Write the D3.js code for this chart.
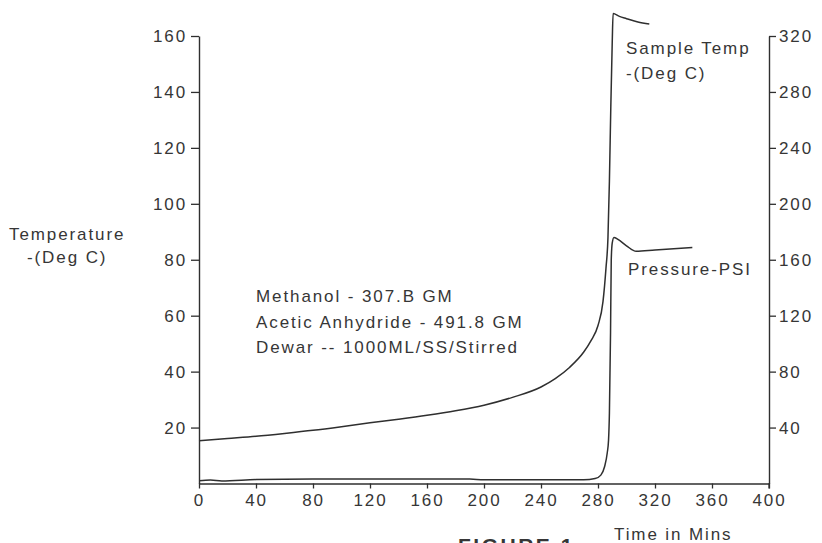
<!DOCTYPE html>
<html>
<head>
<meta charset="utf-8">
<script src="https://cdn.jsdelivr.net/npm/d3@7/dist/d3.min.js"></script>
<style>
  html, body { margin: 0; padding: 0; background: #ffffff; }
  svg text { font-family: "Liberation Sans", Arial, Helvetica, sans-serif; fill: #363636; }
</style>
</head>
<body>
<svg id="chart" width="822" height="543"></svg>
<script>
// ---- data ----
const timeTicks = [0, 40, 80, 120, 160, 200, 240, 280, 320, 360, 400];
const leftTicks = [20, 40, 60, 80, 100, 120, 140, 160];
const rightTicks = [40, 80, 120, 160, 200, 240, 280, 320];

// Sample temperature (Deg C, left axis)
const tempTime = [0, 20, 40, 60, 80, 100, 120, 140, 160, 180, 200, 220, 240, 250, 260, 270, 275, 280, 283.5, 285.6, 287, 288, 289, 290, 290.6, 295, 300, 308, 316];
const tempValue = [15.3, 16.1, 16.9, 17.9, 19.0, 20.3, 21.7, 23.0, 24.4, 26.0, 28.0, 30.8, 34.5, 37.5, 41.5, 47.0, 51.0, 56.5, 65.0, 77.0, 88.0, 108.0, 135.0, 158.0, 168.0, 167.0, 166.2, 165.0, 164.3];

// Pressure (PSI, right axis)
const presTime = [0, 8, 16, 40, 80, 120, 160, 190, 200, 240, 270, 278, 282, 284.6, 286.5, 287.4, 288, 288.8, 289.3, 290, 291.2, 294, 300, 306.8, 320, 346.2];
const presValue = [2.0, 2.5, 1.8, 2.8, 3.3, 3.3, 3.3, 3.2, 2.6, 2.6, 2.6, 3.5, 6, 12, 22, 31, 50, 108, 160, 172, 176, 174.5, 170, 166, 167, 168.7];

const annotation = ["Methanol - 307.B GM", "Acetic Anhydride - 491.8 GM", "Dewar -- 1000ML/SS/Stirred"];

// ---- layout ----
const svg = d3.select("#chart");
const x0 = 199, x1 = 769, y0 = 483.5, yTop = 36;
const x = d3.scaleLinear().domain([0, 400]).range([x0, x1]);
const yL = d3.scaleLinear().domain([0, 160]).range([y0, yTop]);
const yR = d3.scaleLinear().domain([0, 320]).range([y0, yTop]);

const ink = "#2f2f2f";
const fontSize = "17px";
const ls = "1.9px";

function styleAxis(g) {
  g.selectAll("path.domain").attr("stroke", ink).attr("stroke-width", 1.4);
  g.selectAll(".tick line").attr("stroke", ink).attr("stroke-width", 1.3);
  g.selectAll(".tick text")
    .style("font-family", '"Liberation Sans", Arial, Helvetica, sans-serif')
    .style("font-size", fontSize).style("letter-spacing", ls).attr("fill", "#363636");
}

// x axis
const gx = svg.append("g").attr("transform", `translate(0,${y0})`)
  .call(d3.axisBottom(x).tickValues(timeTicks).tickSize(5).tickSizeOuter(0).tickPadding(5).tickFormat(d3.format("d")));
styleAxis(gx);

// left axis
const gl = svg.append("g").attr("transform", `translate(${x0},0)`)
  .call(d3.axisLeft(yL).tickValues(leftTicks).tickSize(8).tickSizeOuter(0).tickPadding(4).tickFormat(d3.format("d")));
styleAxis(gl);

// right axis
const gr = svg.append("g").attr("transform", `translate(${x1},0)`)
  .call(d3.axisRight(yR).tickValues(rightTicks).tickSize(7).tickSizeOuter(0).tickPadding(3).tickFormat(d3.format("d")));
styleAxis(gr);
svg.append("line").attr("x1", x1).attr("x2", x1).attr("y1", y0).attr("y2", y0 + 5)
  .attr("stroke", ink).attr("stroke-width", 1.3);

// lines
const tempData = tempTime.map((t, i) => ({ t, v: tempValue[i] }));
const presData = presTime.map((t, i) => ({ t, v: presValue[i] }));

const tempLine = d3.line().x(d => x(d.t)).y(d => yL(d.v)).curve(d3.curveMonotoneX);
const presLine = d3.line().x(d => x(d.t)).y(d => yR(d.v)).curve(d3.curveMonotoneX);

svg.append("path").datum(tempData).attr("d", tempLine)
  .attr("fill", "none").attr("stroke", ink).attr("stroke-width", 1.5);
svg.append("path").datum(presData).attr("d", presLine)
  .attr("fill", "none").attr("stroke", ink).attr("stroke-width", 1.5);

// texts
function txt(s, tx, ty, opts = {}) {
  return svg.append("text").attr("x", tx).attr("y", ty)
    .style("font-size", opts.size || fontSize)
    .style("letter-spacing", opts.ls || ls)
    .style("font-weight", opts.weight || "normal")
    .attr("text-anchor", opts.anchor || "start")
    .text(s);
}

txt("Temperature", 9, 240);
txt("-(Deg C)", 27, 263);

annotation.forEach((s, i) => txt(s, 256, 302 + i * 25.5));

txt("Sample Temp", 626, 54);
txt("-(Deg C)", 626, 79);
txt("Pressure-PSI", 628, 275);

txt("Time in Mins", 614, 540);
txt("FIGURE 1", 458, 553, { size: "21px", weight: "bold", ls: "2.5px" });
</script>
</body>
</html>
